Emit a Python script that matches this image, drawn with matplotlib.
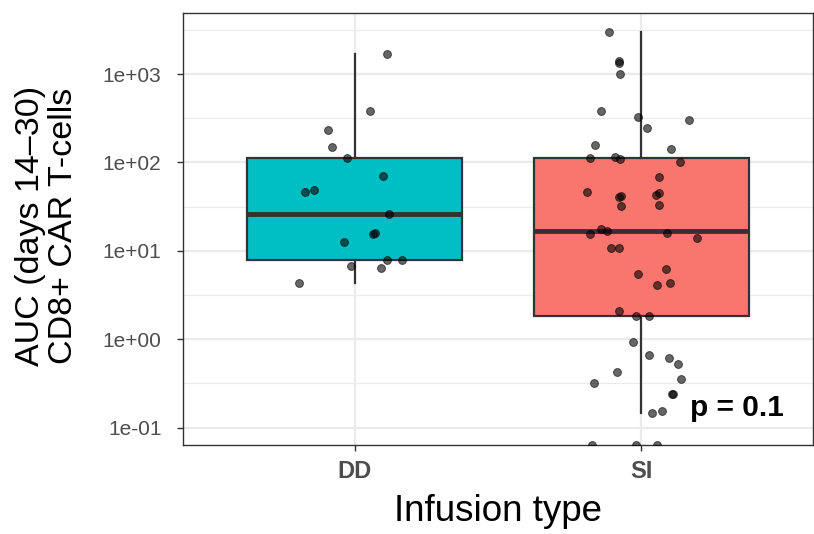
import numpy as np
import matplotlib
matplotlib.use('Agg')
import matplotlib.pyplot as plt
from matplotlib.ticker import FixedLocator, MultipleLocator, FuncFormatter

plt.rcParams['font.family'] = ['Liberation Sans', 'DejaVu Sans']

# ---------------- data ----------------
categories = ['DD', 'SI']
box_colors = ['#00BFC4', '#F8766D']

dd_values = [1698, 384, 234, 149, 113, 70.6, 48.6, 45.7, 25.8, 15.9, 15.7,
             12.5, 7.85, 7.85, 6.71, 6.47, 4.34]
dd_jitter = [0.113, 0.052, -0.092, -0.080, -0.029, 0.100, -0.143, -0.174,
             0.121, 0.071, 0.064, -0.039, 0.113, 0.164, -0.015, 0.091, -0.194]

si_values = [2973, 1396, 1332, 995, 379, 327, 298, 245, 158, 142,
             112, 115, 110, 101, 67.6, 46.5, 40.9, 41.9, 42.3, 45.0,
             32.5, 32.8, 17.7, 16.8, 15.4, 16.0, 14.1, 10.8, 10.8, 6.31,
             5.49, 4.10, 4.34, 2.09, 1.85, 1.82, 0.929, 0.665, 0.610, 0.530,
             0.430, 0.323, 0.356, 0.243, 0.243, 0.146, 0.155, 0, 0, 0]
si_jitter = [-0.114, -0.077, -0.077, -0.073, -0.141, -0.010, 0.168, 0.019, -0.162, 0.103,
             -0.179, -0.093, -0.075, 0.137, 0.061, -0.188, -0.077, -0.070, 0.052, 0.063,
             -0.069, 0.062, -0.139, -0.118, -0.179, 0.089, 0.194, -0.104, -0.077, 0.087,
             -0.011, 0.054, 0.100, -0.077, -0.017, 0.026, -0.029, 0.028, 0.098, 0.129,
             -0.083, -0.166, 0.139, 0.106, 0.110, 0.037, 0.074, -0.171, -0.017, 0.055]

y_major_exponents = [-1, 0, 1, 2, 3]
p_value = 0.1

x_title = 'Infusion type'
y_title = 'AUC (days 14\u201330)\nCD8+ CAR T-cells'

# ---------------- figure ----------------
W, H = 814, 534
fig = plt.figure(figsize=(W / 100, H / 100), dpi=100)
ax = fig.add_axes([183 / W, 89 / H, 630 / W, 432 / H])

ylim = (-1.196, 3.690)
ax.set_xlim(0.4, 2.6)
ax.set_ylim(*ylim)

groups_vals = [dd_values, si_values]
groups_jit = [dd_jitter, si_jitter]

with np.errstate(divide='ignore'):
    logs = [np.log10(np.asarray(v, dtype=float)) for v in groups_vals]

finite_logs = [l[np.isfinite(l)] for l in logs]

bp = ax.boxplot(finite_logs, positions=[1, 2], widths=0.75, whis=1.5,
                patch_artist=True, showfliers=False, showcaps=False,
                zorder=2)
for patch, col in zip(bp['boxes'], box_colors):
    patch.set_facecolor(col)
    patch.set_edgecolor('#333333')
    patch.set_linewidth(1.6)
for w in bp['whiskers']:
    w.set_color('#333333')
    w.set_linewidth(1.6)
for m in bp['medians']:
    m.set_color('#333333')
    m.set_linewidth(3.5)
    m.set_solid_capstyle('butt')

for i, (l, j) in enumerate(zip(logs, groups_jit)):
    yv = np.where(np.isfinite(l), l, ylim[0])
    xv = (i + 1) + np.asarray(j)
    ax.scatter(xv, yv, s=32, c='black', alpha=0.6, edgecolors='black',
               linewidths=0.7, zorder=3, clip_on=True)

# p-value annotation
ax.text(2.172, -0.873, f'p = {p_value}', fontsize=21.5, fontweight='bold',
        ha='left', va='baseline', color='black', zorder=4)

# axes styling
ax.set_xticks([1, 2])
ax.set_xticklabels(categories, fontweight='bold', fontsize=17, color='#4D4D4D')
ax.yaxis.set_major_locator(FixedLocator(y_major_exponents))
ax.yaxis.set_minor_locator(MultipleLocator(0.5))
ax.yaxis.set_major_formatter(FuncFormatter(lambda v, p: '1e{:+03d}'.format(int(round(v)))))
ax.tick_params(axis='y', which='major', labelsize=15, labelcolor='#4D4D4D',
               color='#333333', length=4.5, width=1.0, pad=11)
ax.tick_params(axis='y', which='minor', length=0)
ax.tick_params(axis='x', which='major', color='#333333', length=4.5, width=1.0,
               pad=6)

ax.grid(True, which='major', color='#EBEBEB', linewidth=1.6, zorder=0)
ax.grid(True, which='minor', axis='y', color='#EBEBEB', linewidth=0.9, zorder=0)
ax.set_axisbelow(True)

for s in ax.spines.values():
    s.set_color('#333333')
    s.set_linewidth(1.0)

fig.text(498 / W, 1 - 521 / H, x_title, fontsize=26.5, ha='center', va='baseline',
         color='black')
fig.text(47 / W, 1 - 226 / H, y_title, fontsize=24.5, rotation=90, ha='center',
         va='center', multialignment='center', linespacing=1.1, color='black')

fig.savefig('out.png', dpi=100)
